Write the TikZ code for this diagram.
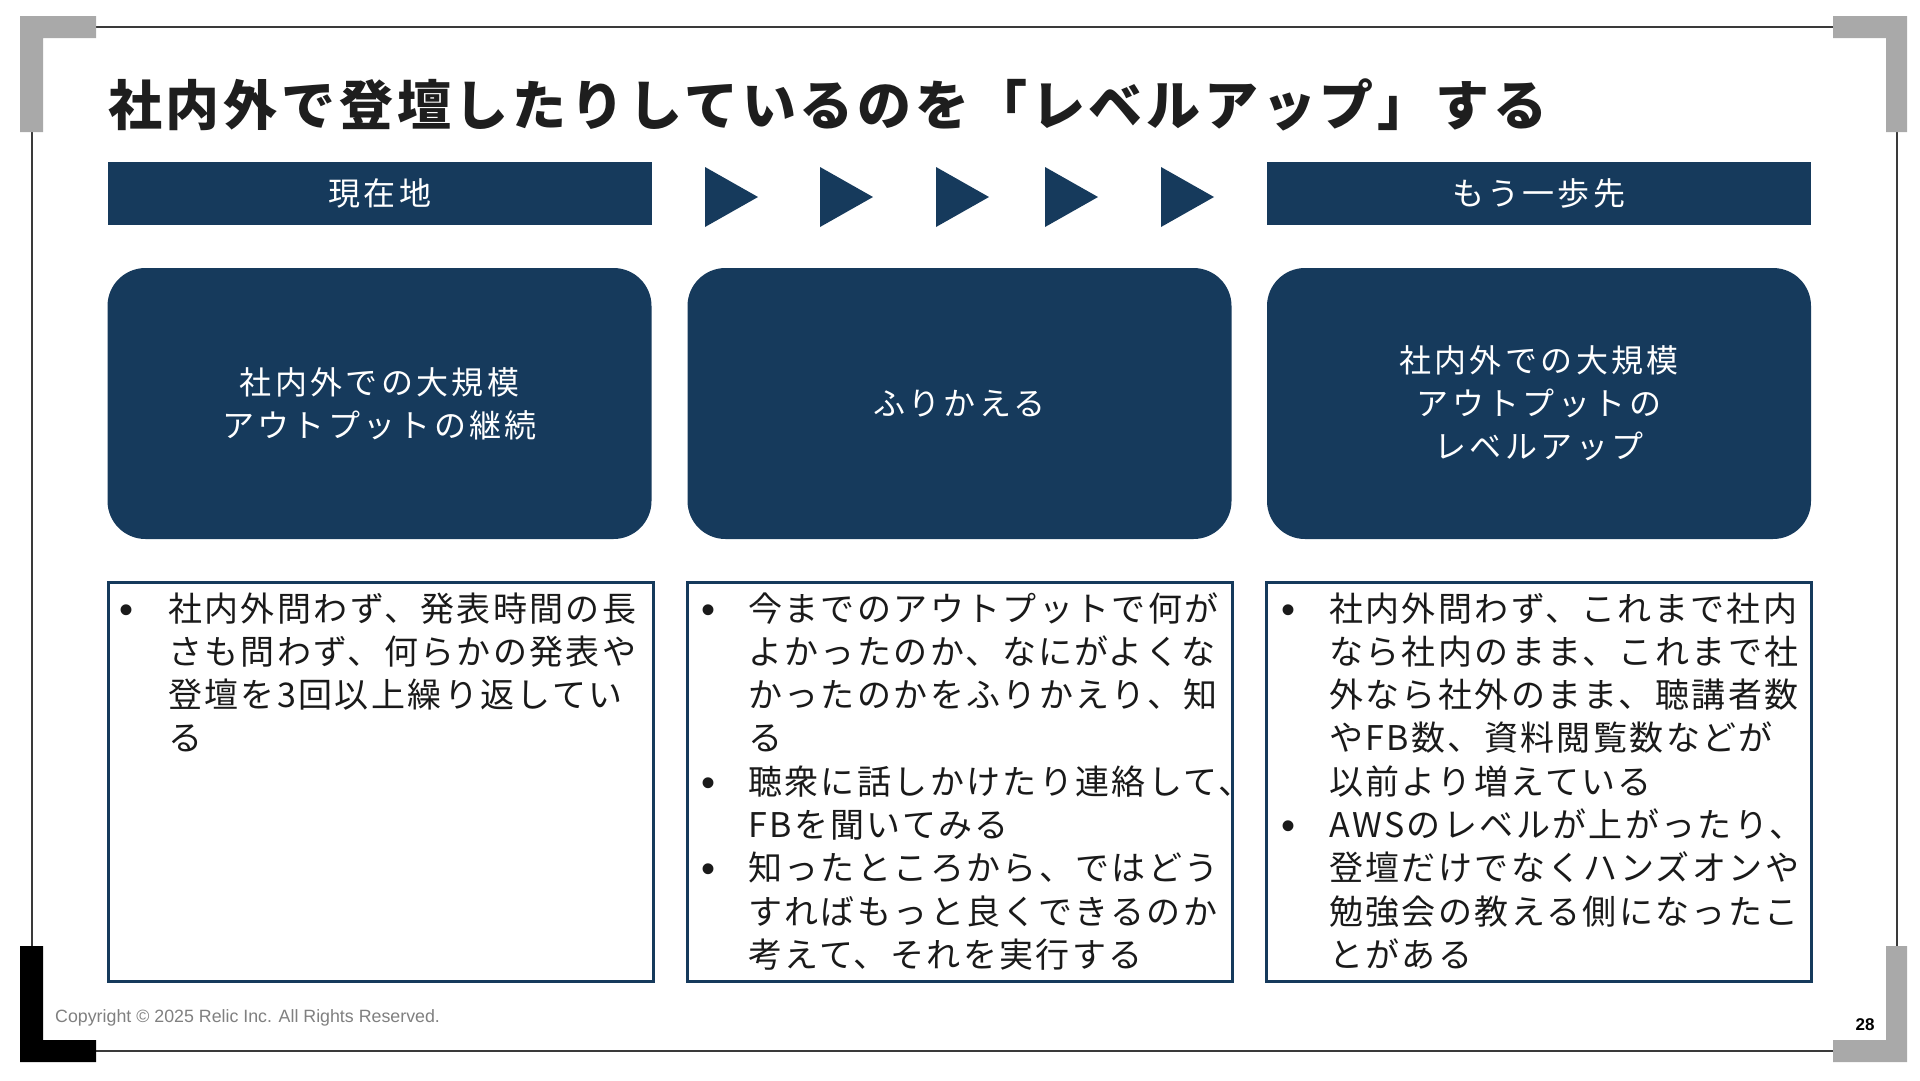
\documentclass[tikz,border=0pt]{standalone}
\usepackage{fontspec}
\setmainfont{Liberation Sans}
\newfontfamily\jp[LetterSpace=7]{Noto Sans CJK JP}
\newfontfamily\jph[LetterSpace=10.5]{Noto Sans CJK JP}
\newfontfamily\jpt[LetterSpace=7]{Noto Sans CJK JP}
\definecolor{navy}{HTML}{163A5C}
\definecolor{cgray}{HTML}{A9A9A9}
\definecolor{fline}{HTML}{3A3A3A}
\definecolor{titlecol}{HTML}{1E1E1E}
\definecolor{bodycol}{HTML}{1A1A1A}
\definecolor{copycol}{HTML}{808080}
\tikzset{
  hdr/.style={fill=navy, draw=none, text=white, font=\jph\fontsize{32}{38}\selectfont, minimum width=544pt, minimum height=63pt, inner sep=0pt},
  rbox/.style={fill=navy, rounded corners=38pt, text=white, font=\jph\fontsize{32}{43}\selectfont, align=center, minimum width=544pt, minimum height=271pt, inner sep=0pt},
  obox/.style={draw=navy, line width=3pt, minimum width=545pt, minimum height=399pt, inner sep=0pt},
  btext/.style={anchor=base west, font=\jp\fontsize{34}{40}\selectfont, text=bodycol, inner sep=0pt},
  bul/.style={anchor=base, font=\fontsize{40}{44}\selectfont, text=bodycol, inner sep=0pt},
  tri/.style={fill=navy},
  frameline/.style={draw=fline, line width=1.3pt},
  cornerg/.style={fill=cgray},
  cornerk/.style={fill=black}
}
\begin{document}
\begin{tikzpicture}[x=1pt,y=-1pt]
\fill[white] (0,0) rectangle (1920,1080);
\useasboundingbox (0,0) rectangle (1920,1080);
% frame
\draw[frameline] (96,27) -- (1833,27);
\draw[frameline] (96,1051) -- (1833,1051);
\draw[frameline] (32,132) -- (32,946);
\draw[frameline] (1897,132) -- (1897,946);
\fill[cornerg] (20,16) -- (96,16) -- (96,38) -- (43,38) -- (43,132) -- (20,132) -- cycle;
\fill[cornerg] (1833,16) -- (1907,16) -- (1907,132) -- (1886,132) -- (1886,38) -- (1833,38) -- cycle;
\fill[cornerg] (1886,946) -- (1907,946) -- (1907,1062) -- (1833,1062) -- (1833,1040) -- (1886,1040) -- cycle;
\fill[cornerk] (20,946) -- (43,946) -- (43,1040) -- (96,1040) -- (96,1062) -- (20,1062) -- cycle;
% title
\node[anchor=base west, font=\jpt\bfseries\fontsize{54}{60}\selectfont, text=titlecol, inner sep=0pt] (title) at (108,125) {社内外で登壇したりしているのを「レベルアップ」する};
% headers
\node[hdr] (h1) at (380,193.5) {現在地};
\node[hdr] (h2) at (1539,193.5) {もう一歩先};
\foreach \xx in {705,820,936,1045,1161}
  \fill[tri] (\xx,167) -- ({\xx+53},197) -- (\xx,227) -- cycle;
% rounded boxes
\node[rbox] (r1) at (379.5,403.5) {社内外での大規模\\アウトプットの継続};
\node[rbox] (r2) at (959.5,403.5) {ふりかえる};
\node[rbox] (r3) at (1539,403.5) {社内外での大規模\\アウトプットの\\レベルアップ};
% outlined boxes
\node[obox] (o1) at (380.5,781.5) {};
\node[obox] (o2) at (959.5,781.5) {};
\node[obox] (o3) at (1539,781.5) {};
% box 1 text
\node[bul] (b1a) at (127,623) {•};
\foreach \t [count=\i] in {社内外問わず、発表時間の長,さも問わず、何らかの発表や,登壇を3回以上繰り返してい,る}
  \node[btext] (a\i) at (168,{621+43.3*(\i-1)}) {\t};
% box 2 text
\node[bul] (b2a) at (708,623) {•};
\node[bul] (b2b) at (708,{623+43.3*4}) {•};
\node[bul] (b2c) at (708,{623+43.3*6}) {•};
\foreach \t [count=\i] in {今までのアウトプットで何が,よかったのか、なにがよくな,かったのかをふりかえり、知,る,聴衆に話しかけたり連絡して、,FBを聞いてみる,知ったところから、ではどう,すればもっと良くできるのか,考えて、それを実行する}
  \node[btext] (m\i) at (748,{621+43.3*(\i-1)}) {\t};
% box 3 text
\node[bul] (b3a) at (1288,623) {•};
\node[bul] (b3b) at (1288,{623+43.3*5}) {•};
\foreach \t [count=\i] in {社内外問わず、これまで社内,なら社内のまま、これまで社,外なら社外のまま、聴講者数,やFB数、資料閲覧数などが,以前より増えている,AWSのレベルが上がったり、,登壇だけでなくハンズオンや,勉強会の教える側になったこ,とがある}
  \node[btext] (n\i) at (1329,{621+43.3*(\i-1)}) {\t};
% footer
\node[anchor=base west, font=\fontsize{17.8}{21}\selectfont, text=copycol, inner sep=0pt] (copy) at (55,1022) {Copyright © 2025 Relic Inc. All Rights Reserved.};
\node[anchor=base, font=\bfseries\fontsize{17}{20}\selectfont, text=black, inner sep=0pt] (pg) at (1865,1030) {28};
\end{tikzpicture}
\end{document}
